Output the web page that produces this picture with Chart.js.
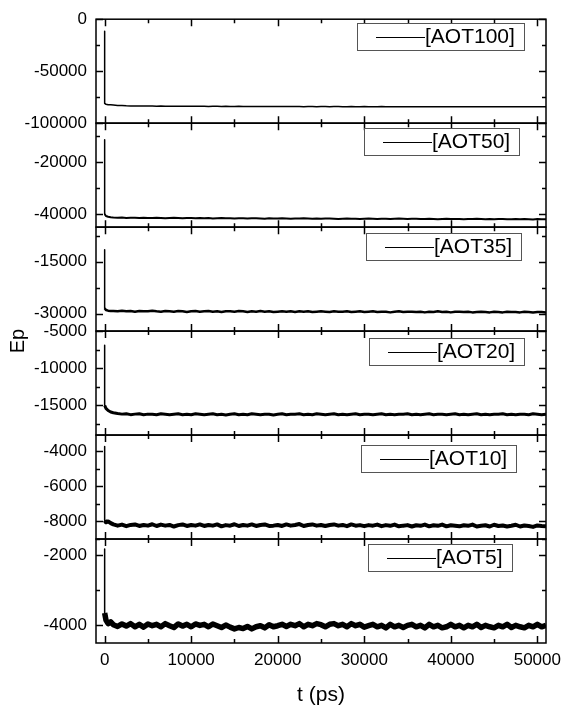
<!DOCTYPE html>
<html>
<head>
<meta charset="utf-8">
<script src="https://cdn.jsdelivr.net/npm/chart.js@4"></script>
<style>
  html, body { margin: 0; padding: 0; background: #fff; }
</style>
</head>
<body>
<canvas id="epChart" width="566" height="705"></canvas>
<script>
// time axis (ps), shared by all six runs
const time = [
  0, 0, 150, 400, 700,
  1000, 1500, 2000, 2500, 3000, 3500, 4000, 4500, 5000, 5500,
  6000, 6500, 7000, 7500, 8000, 8500, 9000, 9500, 10000, 10500,
  11000, 11500, 12000, 12500, 13000, 13500, 14000, 14500, 15000, 15500,
  16000, 16500, 17000, 17500, 18000, 18500, 19000, 19500, 20000, 20500,
  21000, 21500, 22000, 22500, 23000, 23500, 24000, 24500, 25000, 25500,
  26000, 26500, 27000, 27500, 28000, 28500, 29000, 29500, 30000, 30500,
  31000, 31500, 32000, 32500, 33000, 33500, 34000, 34500, 35000, 35500,
  36000, 36500, 37000, 37500, 38000, 38500, 39000, 39500, 40000, 40500,
  41000, 41500, 42000, 42500, 43000, 43500, 44000, 44500, 45000, 45500,
  46000, 46500, 47000, 47500, 48000, 48500, 49000, 49500, 50000, 50500,
  51000
];

const aot100 = [
  -11500, -81000, -81800, -82200, -82400,
  -82600, -82900, -83100, -83300, -83400, -83500, -83500, -83600, -83600, -83600,
  -83700, -83600, -83700, -83700, -83800, -83700, -83700, -83800, -83800, -83700,
  -83800, -83800, -83900, -83800, -83800, -83900, -83800, -83900, -83900, -83800,
  -83900, -83900, -84000, -83900, -83900, -84000, -83900, -84000, -84000, -83900,
  -84000, -84000, -83900, -84000, -84100, -84000, -84000, -84100, -84000, -84000,
  -84100, -84000, -84000, -84100, -84100, -84000, -84100, -84100, -84000, -84100,
  -84100, -84100, -84000, -84100, -84200, -84100, -84100, -84100, -84200, -84100,
  -84100, -84200, -84100, -84100, -84200, -84200, -84100, -84200, -84200, -84100,
  -84200, -84200, -84100, -84200, -84200, -84300, -84200, -84200, -84200, -84300,
  -84200, -84200, -84300, -84200, -84300, -84200, -84300, -84300, -84200, -84300,
  -84300
];

const aot50 = [
  -11400, -40000, -40700, -41000, -41200,
  -41300, -41400, -41300, -41500, -41400, -41400, -41500, -41400, -41500, -41500,
  -41400, -41500, -41600, -41500, -41400, -41500, -41600, -41500, -41500, -41600,
  -41500, -41600, -41500, -41700, -41600, -41500, -41600, -41600, -41700, -41600,
  -41600, -41700, -41600, -41600, -41700, -41800, -41600, -41700, -41700, -41600,
  -41700, -41800, -41700, -41700, -41600, -41700, -41800, -41700, -41800, -41700,
  -41700, -41800, -41900, -41800, -41700, -41800, -41800, -41900, -41800, -41700,
  -41800, -41900, -41800, -41800, -41900, -41800, -41700, -41800, -41900, -41800,
  -41800, -41900, -41900, -41800, -41900, -42000, -41900, -41800, -41900, -41900,
  -41900, -42000, -41900, -41900, -41800, -41900, -42000, -41900, -42000, -41900,
  -41900, -42000, -42000, -41900, -42000, -41900, -42000, -42100, -41900, -42000,
  -42000
];

const aot35 = [
  -11500, -28400, -28900, -29100, -29200,
  -29200, -29300, -29100, -29300, -29200, -29400, -29200, -29300, -29300, -29100,
  -29300, -29400, -29200, -29300, -29400, -29200, -29300, -29500, -29300, -29200,
  -29400, -29300, -29200, -29400, -29300, -29500, -29300, -29300, -29400, -29200,
  -29300, -29500, -29300, -29400, -29200, -29400, -29300, -29500, -29400, -29300,
  -29400, -29300, -29500, -29300, -29400, -29300, -29500, -29400, -29300, -29400,
  -29500, -29300, -29400, -29400, -29300, -29500, -29400, -29300, -29500, -29400,
  -29300, -29500, -29400, -29400, -29600, -29400, -29300, -29500, -29400, -29400,
  -29500, -29400, -29600, -29400, -29500, -29300, -29500, -29400, -29600, -29400,
  -29400, -29500, -29400, -29600, -29500, -29400, -29500, -29600, -29400, -29500,
  -29600, -29400, -29500, -29500, -29600, -29400, -29500, -29600, -29500, -29500,
  -29600
];

const aot20 = [
  -6900, -15000, -15400, -15700, -15900,
  -16000, -16100, -16180, -16120, -16250, -16180, -16120, -16260, -16180, -16200,
  -16260, -16140, -16200, -16260, -16200, -16140, -16260, -16200, -16260, -16140,
  -16200, -16260, -16200, -16140, -16260, -16200, -16290, -16200, -16140, -16260,
  -16200, -16260, -16140, -16200, -16260, -16200, -16200, -16290, -16200, -16140,
  -16260, -16200, -16200, -16140, -16260, -16200, -16260, -16140, -16200, -16260,
  -16200, -16140, -16260, -16200, -16260, -16200, -16140, -16260, -16200, -16200,
  -16260, -16200, -16140, -16260, -16200, -16260, -16200, -16200, -16140, -16260,
  -16200, -16260, -16200, -16140, -16260, -16200, -16200, -16260, -16200, -16140,
  -16260, -16200, -16260, -16200, -16140, -16260, -16200, -16260, -16200, -16200,
  -16140, -16260, -16200, -16260, -16200, -16200, -16260, -16140, -16200, -16260,
  -16200
];

const aot10 = [
  -3750, -7950, -8050, -8000, -8100,
  -8170, -8240, -8180, -8270, -8200, -8170, -8260, -8200, -8240, -8160,
  -8260, -8180, -8240, -8200, -8290, -8210, -8170, -8260, -8200, -8240,
  -8170, -8260, -8200, -8240, -8170, -8280, -8210, -8240, -8160, -8260,
  -8200, -8240, -8170, -8260, -8200, -8170, -8260, -8240, -8200, -8260,
  -8170, -8240, -8200, -8150, -8260, -8200, -8170, -8240, -8200, -8260,
  -8200, -8170, -8240, -8200, -8270, -8170, -8240, -8210, -8270, -8210,
  -8240, -8180, -8270, -8210, -8250, -8180, -8280, -8240, -8210, -8290,
  -8220, -8250, -8180, -8280, -8220, -8250, -8180, -8280, -8220, -8250,
  -8280, -8220, -8250, -8180, -8290, -8250, -8220, -8290, -8190, -8260,
  -8230, -8290, -8250, -8190, -8290, -8230, -8260, -8310, -8230, -8260,
  -8280
];

const aot5 = [
  -1830, -3650, -3850, -3950, -3900,
  -3980, -4030, -3960, -4020, -3950, -4040, -3970, -4050, -3960, -4010,
  -3970, -4040, -3950, -4010, -4060, -3960, -4020, -3970, -4040, -3960,
  -4000, -3970, -4040, -3960, -4010, -4060, -3990, -4050, -4100, -4060,
  -4090, -4030, -4100, -4040, -4010, -4070, -3980, -4040, -4010, -3970,
  -4030, -3970, -4010, -3950, -4040, -3970, -4010, -3950, -3980, -4040,
  -3970, -3950, -4010, -3970, -4040, -3950, -4010, -3970, -4050, -4010,
  -3970, -4040, -4000, -4070, -3970, -4040, -4000, -4060, -4000, -3970,
  -4040, -4000, -4070, -3970, -4040, -4000, -4070, -4040, -3970, -4040,
  -4000, -4070, -4000, -4040, -3970, -4060, -4000, -4040, -4070, -4000,
  -4040, -3970, -4060, -4000, -4040, -4070, -4000, -4040, -3970, -4040,
  -4000
];

const seriesNames = ['[AOT100]', '[AOT50]', '[AOT35]', '[AOT20]', '[AOT10]', '[AOT5]'];
const seriesValues = [aot100, aot50, aot35, aot20, aot10, aot5];
const yMin = [-100000, -45000, -35000, -19000, -9000, -4500];
const yMax = [0, -5000, -5000, -5000, -3100, -1550];
const yMajor = [
  [0, -50000, -100000],
  [-20000, -40000],
  [-15000, -30000],
  [-5000, -10000, -15000],
  [-4000, -6000, -8000],
  [-2000, -4000]
];
const yMinor = [
  [-25000, -75000],
  [-10000, -30000],
  [-7500, -22500],
  [-7500, -12500, -17500],
  [-5000, -7000, -9000],
  [-3000]
];
const xMajor = [0, 10000, 20000, 30000, 40000, 50000];
const xMinor = [5000, 15000, 25000, 35000, 45000];

const FONT = "'Liberation Sans', Arial, sans-serif";
const lineWidths = [1.5, 2, 2.5, 3, 4, 5.5];
// legend box placement inside each panel (gap to right frame, gap below panel top)
const legendGapRight = [22, 27, 25, 22, 30, 34];
const legendGapTop = [4, 5, 6, 7, 10, 5];

// panel boxes, inward ticks, legends and the shared "Ep" title
const panelDecor = {
    id: 'panelDecor',
    afterDatasetsDraw(chart) {
        const { ctx, chartArea } = chart;
        const xs = chart.scales.x;
        const left = chartArea.left;
        const right = chartArea.right;

        ctx.save();

        seriesNames.forEach((name, i) => {
            const ys = chart.scales['y' + i];
            const top = ys.top;
            const bottom = ys.bottom;

            ctx.strokeStyle = '#000';
            ctx.lineWidth = 1.5;
            ctx.strokeRect(left, top, right - left, bottom - top);

            ctx.beginPath();
            const xTick = (v, len) => {
                const px = Math.round(xs.getPixelForValue(v)) + 0.5;
                ctx.moveTo(px, bottom);
                ctx.lineTo(px, bottom - len);
                ctx.moveTo(px, top);
                ctx.lineTo(px, top + len);
            };
            const yTick = (v, len) => {
                const py = Math.round(ys.getPixelForValue(v)) + 0.5;
                ctx.moveTo(left, py);
                ctx.lineTo(left + len, py);
                ctx.moveTo(right, py);
                ctx.lineTo(right - len, py);
            };
            xMajor.forEach(v => xTick(v, 7));
            xMinor.forEach(v => xTick(v, 4));
            yMajor[i].forEach(v => yTick(v, 7));
            yMinor[i].forEach(v => yTick(v, 4));
            ctx.stroke();

            // legend box
            ctx.font = '21px ' + FONT;
            const tw = ctx.measureText(name).width;
            const boxW = Math.round(tw + 77);
            const boxR = Math.round(right - legendGapRight[i]);
            const boxL = boxR - boxW;
            const boxT = Math.round(top + legendGapTop[i]);
            const boxH = 27;
            ctx.fillStyle = '#fff';
            ctx.fillRect(boxL, boxT, boxW, boxH);
            ctx.lineWidth = 1;
            ctx.strokeStyle = '#555';
            ctx.strokeRect(boxL + 0.5, boxT + 0.5, boxW, boxH);
            ctx.strokeStyle = '#000';
            ctx.beginPath();
            const midY = boxT + Math.round(boxH / 2) + 0.5;
            ctx.moveTo(boxL + 19, midY);
            ctx.lineTo(boxL + 68, midY);
            ctx.stroke();
            ctx.fillStyle = '#000';
            ctx.textAlign = 'left';
            ctx.textBaseline = 'middle';
            ctx.fillText(name, boxL + 68, boxT + boxH / 2 + 1);
        });

        // y title
        ctx.translate(18, 341);
        ctx.rotate(-Math.PI / 2);
        ctx.font = '20px ' + FONT;
        ctx.fillStyle = '#000';
        ctx.textAlign = 'center';
        ctx.textBaseline = 'middle';
        ctx.fillText('Ep', 0, 0);
        ctx.restore();
    }
};

function buildYScale(i) {
    return {
        type: 'linear',
        position: 'left',
        stack: 'ep',
        stackWeight: 1,
        weight: 6 - i,
        min: yMin[i],
        max: yMax[i],
        grid: { display: false, drawTicks: false },
        border: { display: false },
        ticks: {
            color: '#000',
            font: { family: FONT, size: 17 },
            padding: 9,
            autoSkip: false,
            maxRotation: 0,
            callback: v => String(v)
        },
        afterBuildTicks: s => { s.ticks = yMajor[i].map(v => ({ value: v })); },
        afterFit: s => { s.width = 96; }
    };
}

const scales = {
    x: {
        type: 'linear',
        position: 'bottom',
        min: -1000,
        max: 51000,
        grid: { display: false, drawTicks: false },
        border: { display: false },
        ticks: {
            color: '#000',
            font: { family: FONT, size: 17 },
            padding: 7,
            autoSkip: false,
            maxRotation: 0,
            callback: v => String(v)
        },
        afterBuildTicks: s => { s.ticks = xMajor.map(v => ({ value: v })); },
        afterFit: s => {
            s.height = 62;
            s.paddingLeft = 0;
            s.paddingRight = 0;
        },
        title: {
            display: true,
            text: 't (ps)',
            color: '#000',
            font: { family: FONT, size: 21 },
            padding: { top: 0, bottom: -3 }
        }
    }
};
seriesNames.forEach((n, i) => { scales['y' + i] = buildYScale(i); });

const datasets = seriesNames.map((name, i) => ({
    label: name,
    data: time.map((t, k) => ({ x: t, y: seriesValues[i][k] })),
    yAxisID: 'y' + i,
    borderColor: '#000',
    borderWidth: lineWidths[i],
    borderJoinStyle: 'round',
    segment: {
        // the start-up drop is a single thin stroke
        borderWidth: ctx => (ctx.p0DataIndex === 0 ? 1.5 : lineWidths[i])
    },
    pointRadius: 0,
    tension: 0,
    fill: false
}));

new Chart(document.getElementById('epChart'), {
    type: 'line',
    data: { datasets: datasets },
    options: {
        responsive: false,
        animation: false,
        devicePixelRatio: 1,
        layout: { padding: { top: 15, right: 20, bottom: 0, left: 0 } },
        plugins: {
            legend: { display: false },
            tooltip: { enabled: false }
        },
        scales: scales
    },
    plugins: [panelDecor]
});
</script>
</body>
</html>
